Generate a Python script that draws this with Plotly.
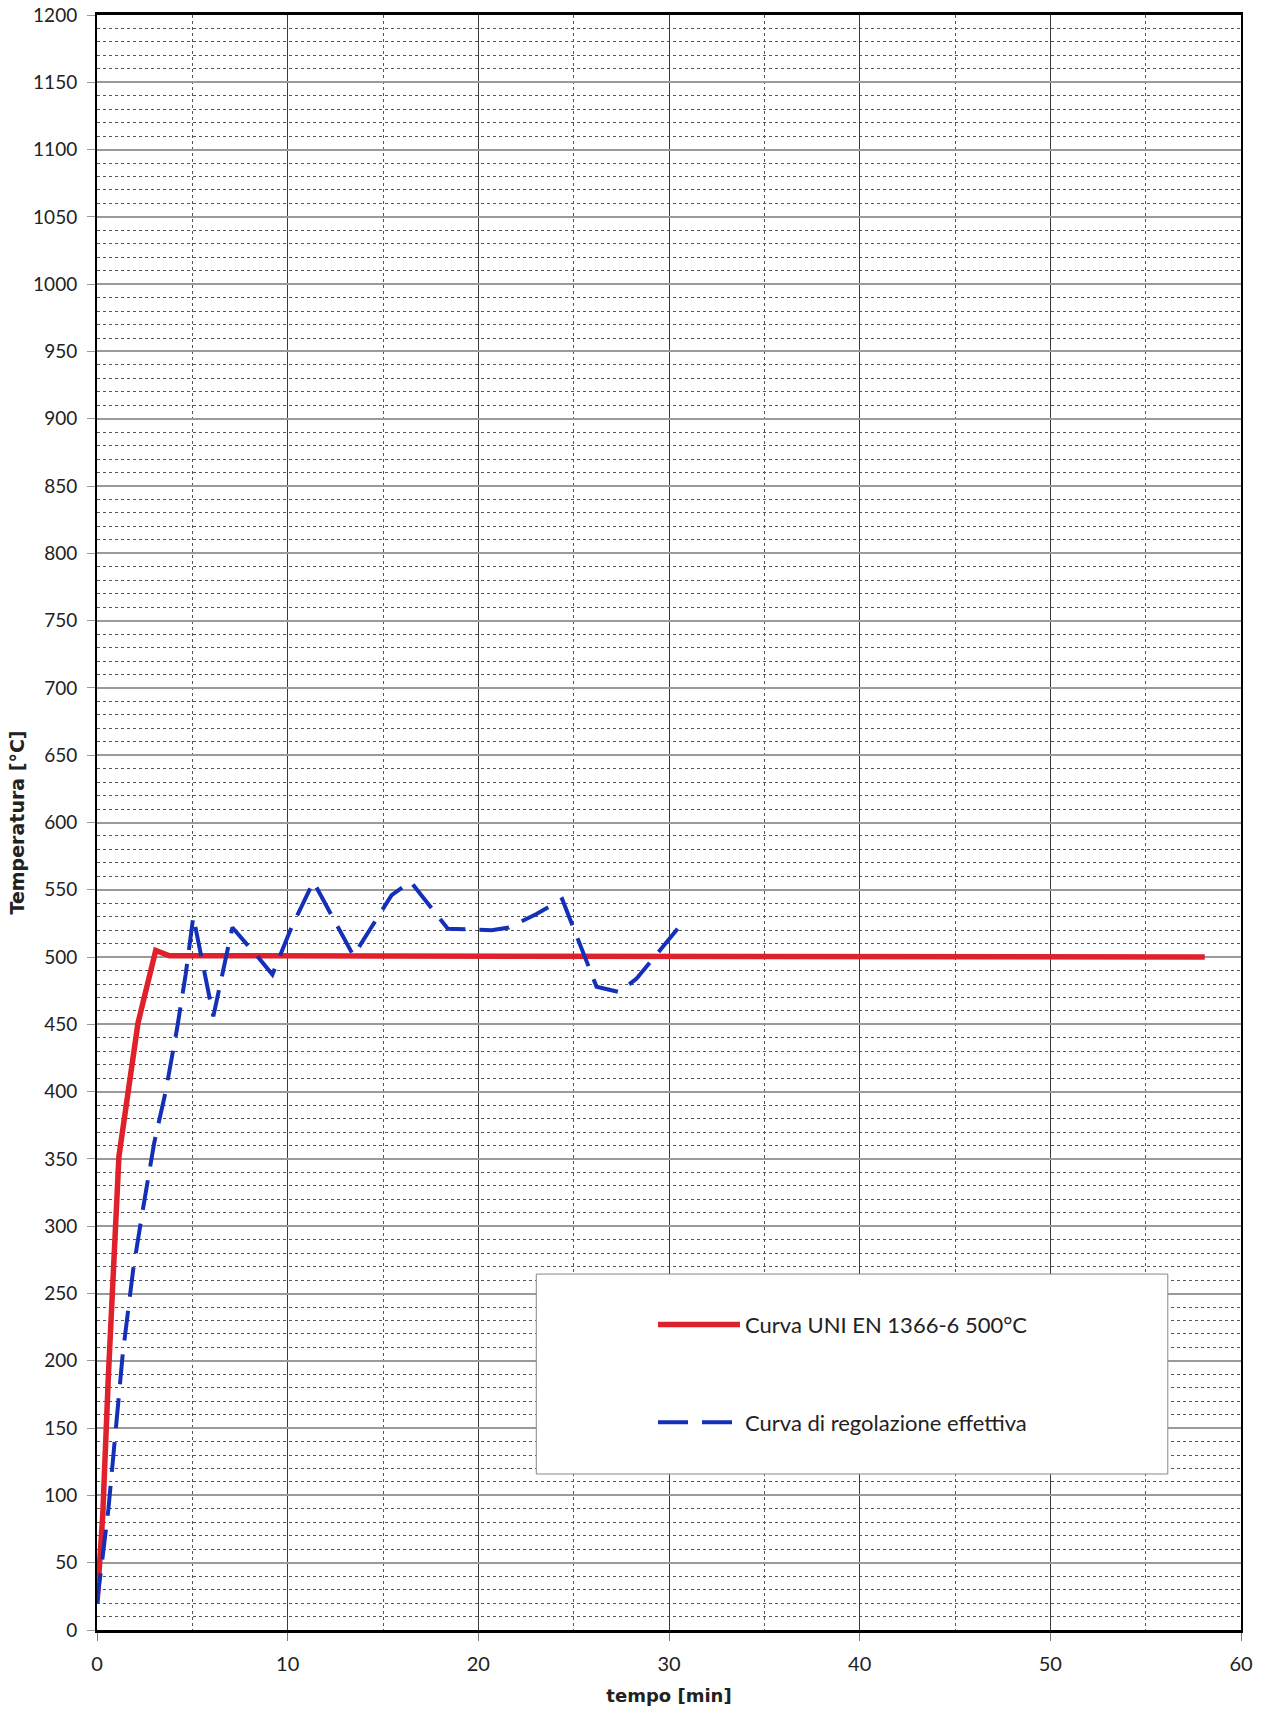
import plotly.graph_objects as go

# Curva UNI EN 1366-6 500°C
red_t = [0, 0.3, 0.6, 0.9, 1.15, 2.15, 3.08, 3.8, 58.1]
red_T = [20, 85, 190, 290, 352, 451, 505, 501, 500]

# Curva di regolazione effettiva
blue_t = [0, 0.6, 1.35, 1.9, 2.4, 3.0, 3.6, 4.2, 4.65, 5.05, 6.1, 7.1, 8.5, 9.2,
          10.2, 11.35, 13.45, 14.3, 15.45, 16.45, 18.4, 20.7, 21.6, 23.05, 23.75,
          24.4, 26.2, 27.4, 28.3, 30.45]
blue_T = [20, 90, 205, 268, 312, 362, 400, 447, 487, 530, 456, 522, 499, 487,
          522, 556, 501, 520, 546, 556, 521, 520, 522, 532, 538,
          543, 478, 474, 484, 521]

series_names = ["Curva UNI EN 1366-6 500°C", "Curva di regolazione effettiva"]
x_title = "tempo [min]"
y_title = "Temperatura [°C]"

FONT = "Lato"
TITLE_FONT = "DejaVu Sans"

fig = go.Figure()
fig.add_trace(go.Scatter(
    x=red_t, y=red_T, mode="lines", name=series_names[0],
    line=dict(color="#e0202b", width=5.5), legendgroup="a"))
fig.add_trace(go.Scatter(
    x=blue_t, y=blue_T, mode="lines", name=series_names[1],
    line=dict(color="#1530b8", width=4, dash="30px,14px"), legendgroup="b"))

fig.update_layout(
    width=1261, height=1715,
    margin=dict(l=97, r=20, t=15, b=85),
    paper_bgcolor="white", plot_bgcolor="white",
    font=dict(family=FONT, color="#222"),
    showlegend=True,
    legend=dict(x=0.486, y=0.202, xanchor="left", yanchor="top",
                bgcolor="rgba(0,0,0,0)", borderwidth=0,
                font=dict(family=FONT, size=22, color="#222"),
                traceorder="grouped", tracegroupgap=66, itemwidth=82),
    shapes=[dict(type="rect", xref="paper", yref="paper",
                 x0=0.384, x1=0.936, y0=0.0966, y1=0.2204,
                 line=dict(color="#888", width=1), fillcolor="white",
                 layer="above")],
)

fig.update_xaxes(
    range=[0, 60], tick0=0, dtick=10, automargin=False,
    showgrid=True, gridcolor="#3a3a3a", gridwidth=1,
    minor=dict(dtick=5, showgrid=True, gridcolor="#555", griddash="dot", gridwidth=1),
    showline=True, linecolor="black", linewidth=3, mirror=True,
    ticks="outside", ticklen=8, tickcolor="#777",
    ticklabelstandoff=6,
    zeroline=False,
    tickfont=dict(family=FONT, size=20, color="#222"),
    title=dict(text="<b>" + x_title + "</b>", font=dict(family=TITLE_FONT, size=18, color="#222"),
               standoff=16),
)
fig.update_yaxes(
    range=[0, 1200], tick0=0, dtick=50, automargin=False,
    showgrid=True, gridcolor="#9a9a9a", gridwidth=2,
    minor=dict(dtick=10, showgrid=True, gridcolor="#555", griddash="dot", gridwidth=1),
    showline=True, linecolor="black", linewidth=2, mirror=True,
    ticks="outside", ticklen=8, tickcolor="#999",
    ticklabelstandoff=6,
    zeroline=False,
    tickfont=dict(family=FONT, size=19, color="#222"),
    title=dict(text="<b>" + y_title + "</b>", font=dict(family=TITLE_FONT, size=19, color="#222"),
               standoff=3),
)

fig.write_html("out.html")
